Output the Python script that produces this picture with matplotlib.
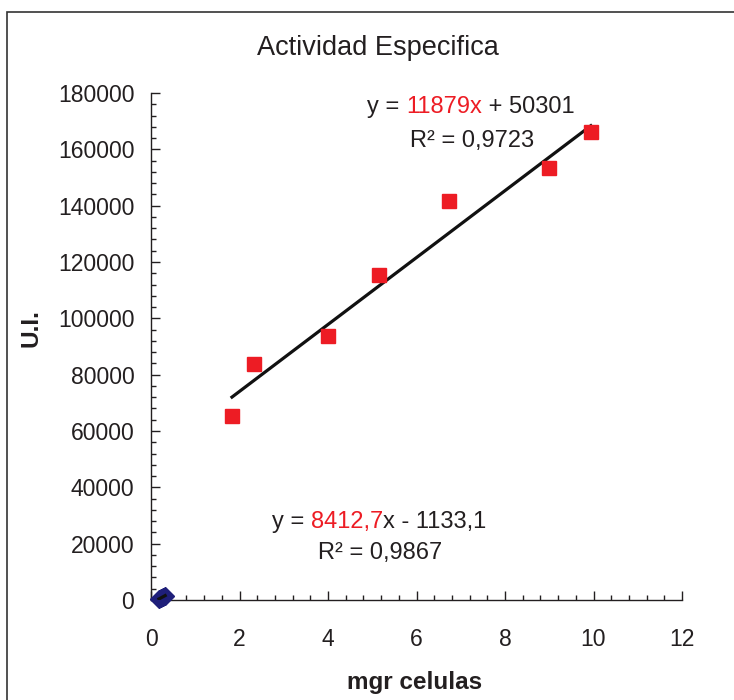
import numpy as np
import matplotlib.pyplot as plt
from matplotlib.patches import Rectangle
from matplotlib.ticker import MultipleLocator

plt.rcParams['font.family'] = ['Liberation Sans', 'DejaVu Sans']

# --- data ---
mg_red = [1.83, 2.33, 4.0, 5.15, 6.73, 9.0, 9.94]
ui_red = [65300, 83800, 93700, 115400, 141600, 153400, 166100]

mg_blue = [0.18, 0.22, 0.27, 0.32]
ui_blue = [400, 700, 1100, 1500]

# linear fits (Excel trendlines)
slope_red, icpt_red, r2_red = 11879, 50301, 0.9723
slope_blue, icpt_blue, r2_blue = 8412.7, -1133.1, 0.9867

txt = '#231f20'
red = '#ed1c24'
navy = '#1f1f7a'
fs = 16.5

fig = plt.figure(figsize=(7.34, 7.0), dpi=100)
fig.patches.append(Rectangle((7 / 734, -0.05), 1.1, 1 - 12 / 700 + 0.05,
                             transform=fig.transFigure, fill=False,
                             edgecolor='#333333', lw=1.2))

ax = fig.add_axes([151 / 734, 1 - 600 / 700, 531 / 734, 507 / 700])
ax.set_xlim(0, 12)
ax.set_ylim(0, 180000)
for s in ['top', 'right']:
    ax.spines[s].set_visible(False)
for s in ['left', 'bottom']:
    ax.spines[s].set_color(txt)
    ax.spines[s].set_linewidth(1.0)

ax.xaxis.set_major_locator(MultipleLocator(2))
ax.xaxis.set_minor_locator(MultipleLocator(0.4))
ax.yaxis.set_major_locator(MultipleLocator(20000))
ax.yaxis.set_minor_locator(MultipleLocator(4000))
ax.tick_params(which='both', direction='in', color=txt, width=1.0)
ax.tick_params(which='major', length=6.5, labelsize=fs, labelcolor=txt)
ax.tick_params(which='minor', length=3.5)
ax.tick_params(axis='x', which='major', pad=20)
ax.tick_params(axis='y', which='major', pad=12)

# trendlines
xr = np.array([min(mg_red), max(mg_red)])
ax.plot(xr, slope_red * xr + icpt_red, color='#111111', lw=2.3, zorder=2)
xb = np.array([min(mg_blue), max(mg_blue)])
ax.plot(xb, slope_blue * xb + icpt_blue, color='#111111', lw=2.3, zorder=4)

ax.plot(mg_red, ui_red, 's', color=red, ms=10, mec=red, zorder=3, clip_on=False)
ax.plot(mg_blue, ui_blue, 'D', color=navy, ms=9, mec=navy, zorder=3, clip_on=False)

fig.text(378 / 734, 1 - 48 / 700, 'Actividad Especifica', fontsize=19.5,
         color=txt, ha='center', va='center')
fig.text(415 / 734, 1 - 683 / 700, 'mgr celulas', fontsize=17.5,
         fontweight='bold', color=txt, ha='center', va='center')
fig.text(31 / 734, 1 - 328 / 700, 'U.I.', fontsize=17.5, fontweight='bold',
         color=txt, ha='center', va='center', rotation=90)


def fit_label(x, y, slope, rest):
    # equation with the slope highlighted in red
    t1 = ax.text(x, y, 'y = ', fontsize=fs + 0.5, color=txt, va='baseline')
    t2 = ax.annotate(slope, xycoords=t1, xy=(1, 0), va='bottom',
                     fontsize=fs + 0.5, color=red)
    ax.annotate(rest, xycoords=t2, xy=(1, 0), va='bottom',
                fontsize=fs + 0.5, color=txt)


fit_label(4.88, 172900, '11879x', ' + 50301')
ax.text(5.85, 160800, 'R² = 0,9723', fontsize=fs + 0.5, color=txt, va='baseline')

fit_label(2.73, 25600, '8412,7', 'x - 1133,1')
ax.text(3.77, 14600, 'R² = 0,9867', fontsize=fs + 0.5, color=txt, va='baseline')

fig.savefig('out.png', dpi=100)
